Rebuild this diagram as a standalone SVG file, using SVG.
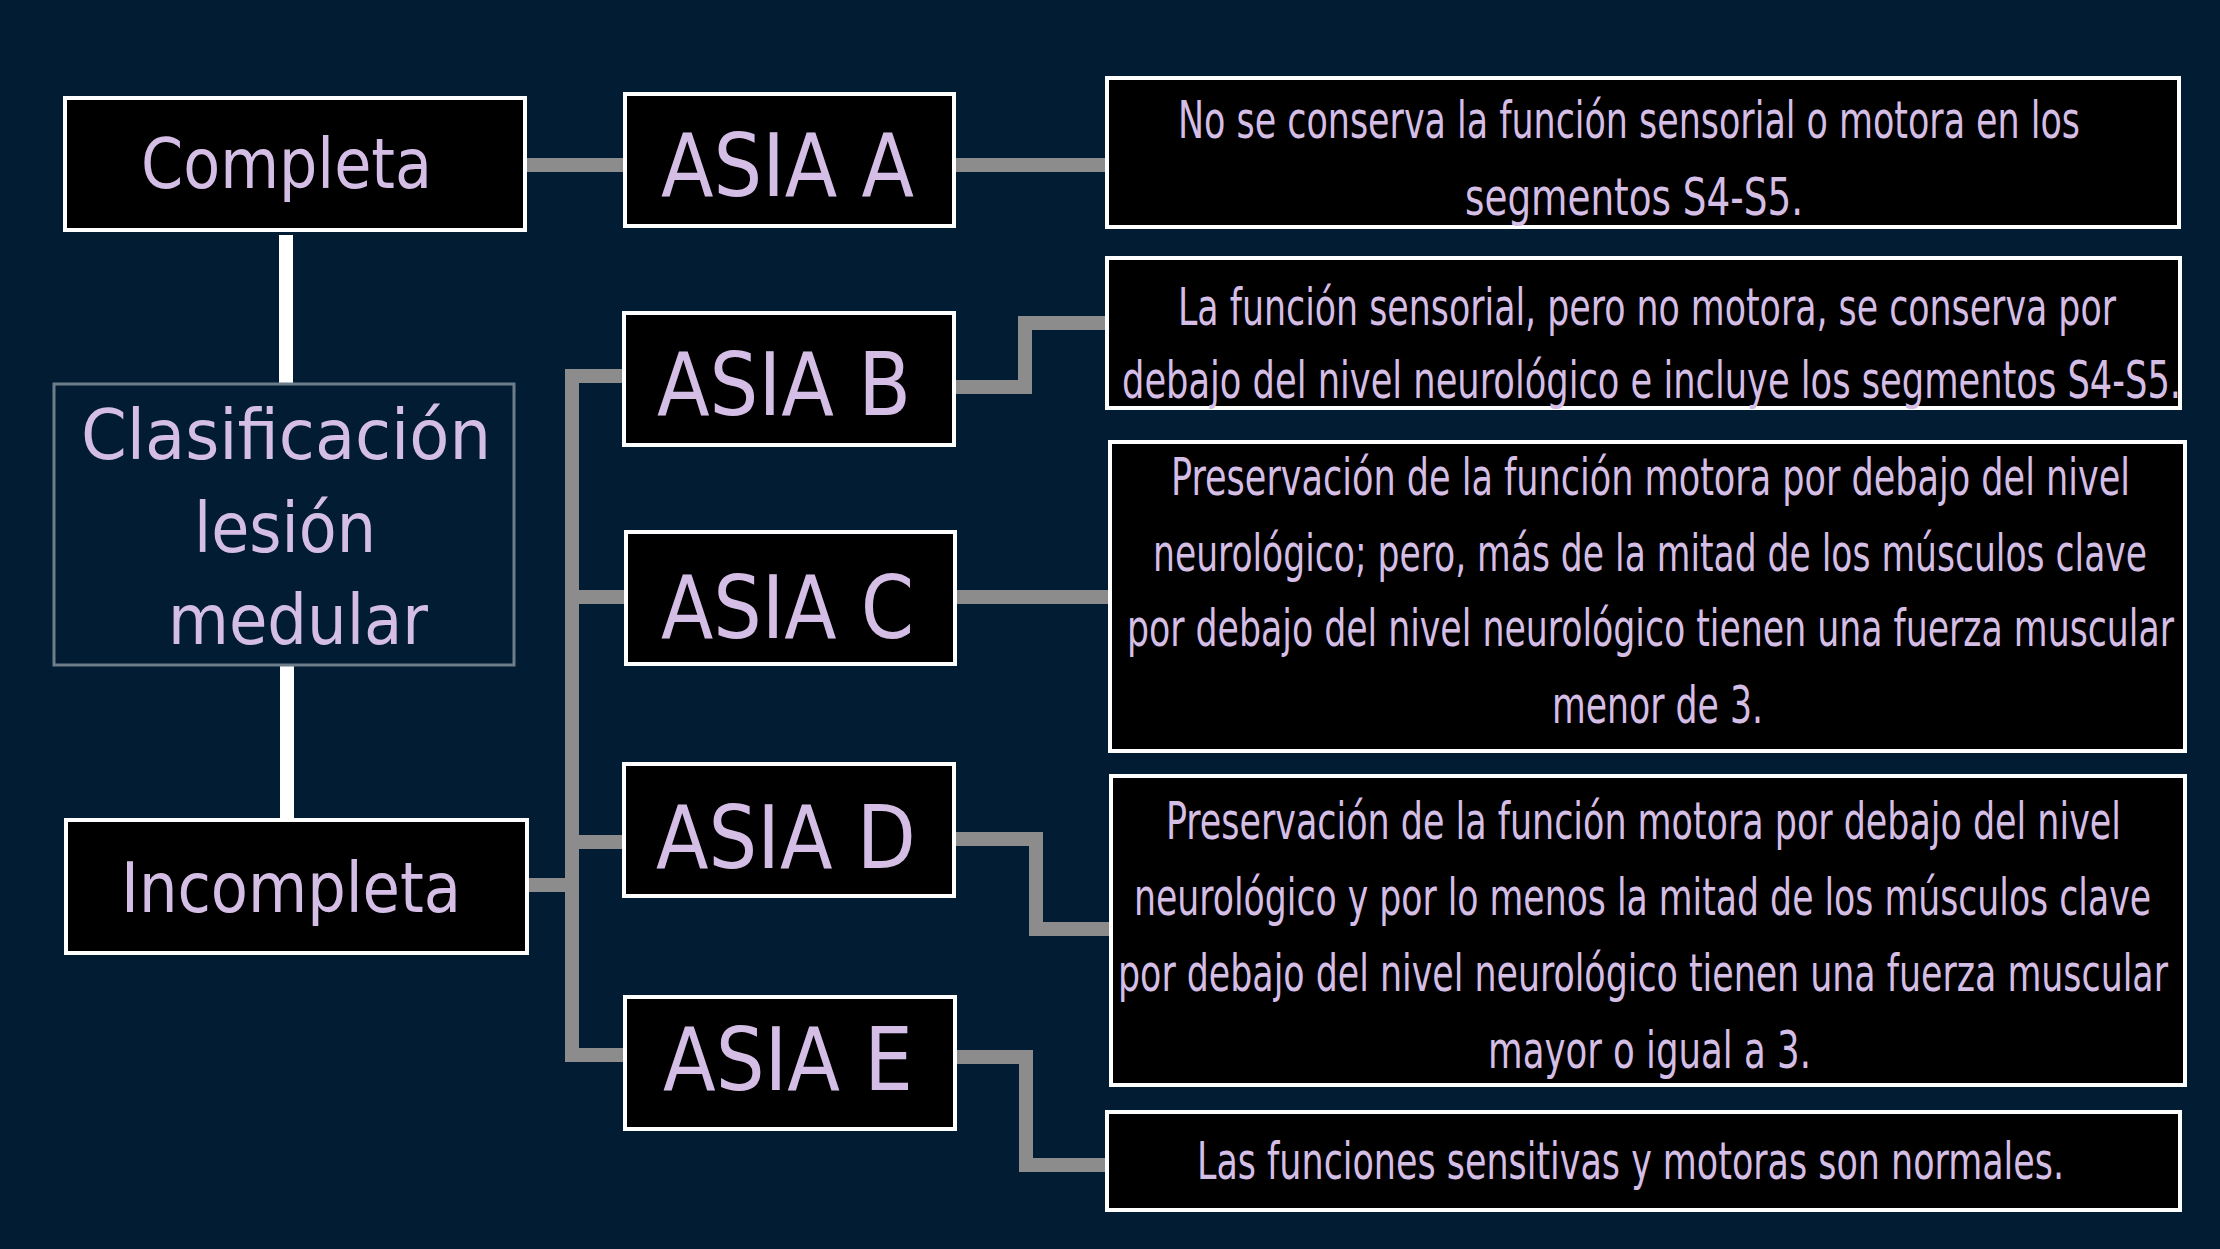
<svg xmlns="http://www.w3.org/2000/svg" width="2220" height="1249" viewBox="0 0 2220 1249">
<style>
.bg{fill:#021d33}
.box{fill:#000;stroke:#fff;stroke-width:4}
.root{fill:#021d33;stroke:#6d7d8a;stroke-width:3}
.conn{fill:none;stroke:#8c8c8c;stroke-width:14;stroke-linejoin:miter}
.wconn{fill:none;stroke:#fff;stroke-width:14}
text{fill:#d4bee5;font-family:"Liberation Sans Narrow","DejaVu Sans Condensed","Liberation Sans",sans-serif}
.big{font-size:88px}
.mid{font-size:70px}
.desc{font-size:52px}
</style>
<rect class="bg" x="0" y="0" width="2220" height="1249"/>
<g id="connectors">
<line class="wconn" x1="286" y1="235" x2="286" y2="384"/>
<line class="wconn" x1="287" y1="666" x2="287" y2="820"/>
<path class="conn" d="M525,165 H625"/>
<path class="conn" d="M954,165 H1107"/>
<path class="conn" d="M527,885 H572"/>
<path class="conn" d="M624,376 H572 V1055 H625"/>
<path class="conn" d="M572,597 H626"/>
<path class="conn" d="M572,842 H624"/>
<path class="conn" d="M954,387 H1025 V323 H1107"/>
<path class="conn" d="M956,597 H1110"/>
<path class="conn" d="M954,839 H1036 V929 H1111"/>
<path class="conn" d="M956,1057 H1026 V1165 H1107"/>
</g>
<g id="completa">
<rect class="box" x="65" y="98" width="460" height="132"/>
<text class="mid" x="141" y="188" textLength="291" lengthAdjust="spacingAndGlyphs">Completa</text>
</g>
<g id="clasificacion">
<rect class="root" x="54" y="384" width="460" height="281"/>
<text class="mid" x="81" y="459" textLength="410" lengthAdjust="spacingAndGlyphs">Clasificación</text>
<text class="mid" x="194" y="552" textLength="182" lengthAdjust="spacingAndGlyphs">lesión</text>
<text class="mid" x="168" y="644" textLength="260" lengthAdjust="spacingAndGlyphs">medular</text>
</g>
<g id="incompleta">
<rect class="box" x="66" y="820" width="461" height="133"/>
<text class="mid" x="121" y="912" textLength="340" lengthAdjust="spacingAndGlyphs">Incompleta</text>
</g>
<g id="asia-a">
<rect class="box" x="625" y="94" width="329" height="132"/>
<text class="big" x="661" y="196" textLength="253" lengthAdjust="spacingAndGlyphs">ASIA A</text>
</g>
<g id="asia-b">
<rect class="box" x="624" y="313" width="330" height="132"/>
<text class="big" x="657" y="415" textLength="254" lengthAdjust="spacingAndGlyphs">ASIA B</text>
</g>
<g id="asia-c">
<rect class="box" x="626" y="532" width="329" height="132"/>
<text class="big" x="661" y="638" textLength="253" lengthAdjust="spacingAndGlyphs">ASIA C</text>
</g>
<g id="asia-d">
<rect class="box" x="624" y="764" width="330" height="132"/>
<text class="big" x="656" y="868" textLength="260" lengthAdjust="spacingAndGlyphs">ASIA D</text>
</g>
<g id="asia-e">
<rect class="box" x="625" y="997" width="330" height="132"/>
<text class="big" x="663" y="1090" textLength="250" lengthAdjust="spacingAndGlyphs">ASIA E</text>
</g>
<g id="desc-a">
<rect class="box" x="1107" y="78" width="1072" height="149"/>
<text class="desc" x="1178" y="138" textLength="902" lengthAdjust="spacingAndGlyphs">No se conserva la función sensorial o motora en los</text>
<text class="desc" x="1465" y="215" textLength="338" lengthAdjust="spacingAndGlyphs">segmentos S4-S5.</text>
</g>
<g id="desc-b">
<rect class="box" x="1107" y="258" width="1073" height="150"/>
<text class="desc" x="1178" y="325" textLength="938" lengthAdjust="spacingAndGlyphs">La función sensorial, pero no motora, se conserva por</text>
<text class="desc" x="1122" y="398" textLength="1059" lengthAdjust="spacingAndGlyphs">debajo del nivel neurológico e incluye los segmentos S4-S5.</text>
</g>
<g id="desc-c">
<rect class="box" x="1110" y="442" width="1075" height="309"/>
<text class="desc" x="1171" y="495" textLength="959" lengthAdjust="spacingAndGlyphs">Preservación de la función motora por debajo del nivel</text>
<text class="desc" x="1153" y="571" textLength="994" lengthAdjust="spacingAndGlyphs">neurológico; pero, más de la mitad de los músculos clave</text>
<text class="desc" x="1127" y="646" textLength="1047" lengthAdjust="spacingAndGlyphs">por debajo del nivel neurológico tienen una fuerza muscular</text>
<text class="desc" x="1552" y="723" textLength="211" lengthAdjust="spacingAndGlyphs">menor de 3.</text>
</g>
<g id="desc-d">
<rect class="box" x="1111" y="776" width="1074" height="309"/>
<text class="desc" x="1166" y="839" textLength="955" lengthAdjust="spacingAndGlyphs">Preservación de la función motora por debajo del nivel</text>
<text class="desc" x="1134" y="915" textLength="1017" lengthAdjust="spacingAndGlyphs">neurológico y por lo menos la mitad de los músculos clave</text>
<text class="desc" x="1118" y="991" textLength="1050" lengthAdjust="spacingAndGlyphs">por debajo del nivel neurológico tienen una fuerza muscular</text>
<text class="desc" x="1488" y="1068" textLength="323" lengthAdjust="spacingAndGlyphs">mayor o igual a 3.</text>
</g>
<g id="desc-e">
<rect class="box" x="1107" y="1112" width="1073" height="98"/>
<text class="desc" x="1197" y="1179" textLength="867" lengthAdjust="spacingAndGlyphs">Las funciones sensitivas y motoras son normales.</text>
</g>
</svg>
